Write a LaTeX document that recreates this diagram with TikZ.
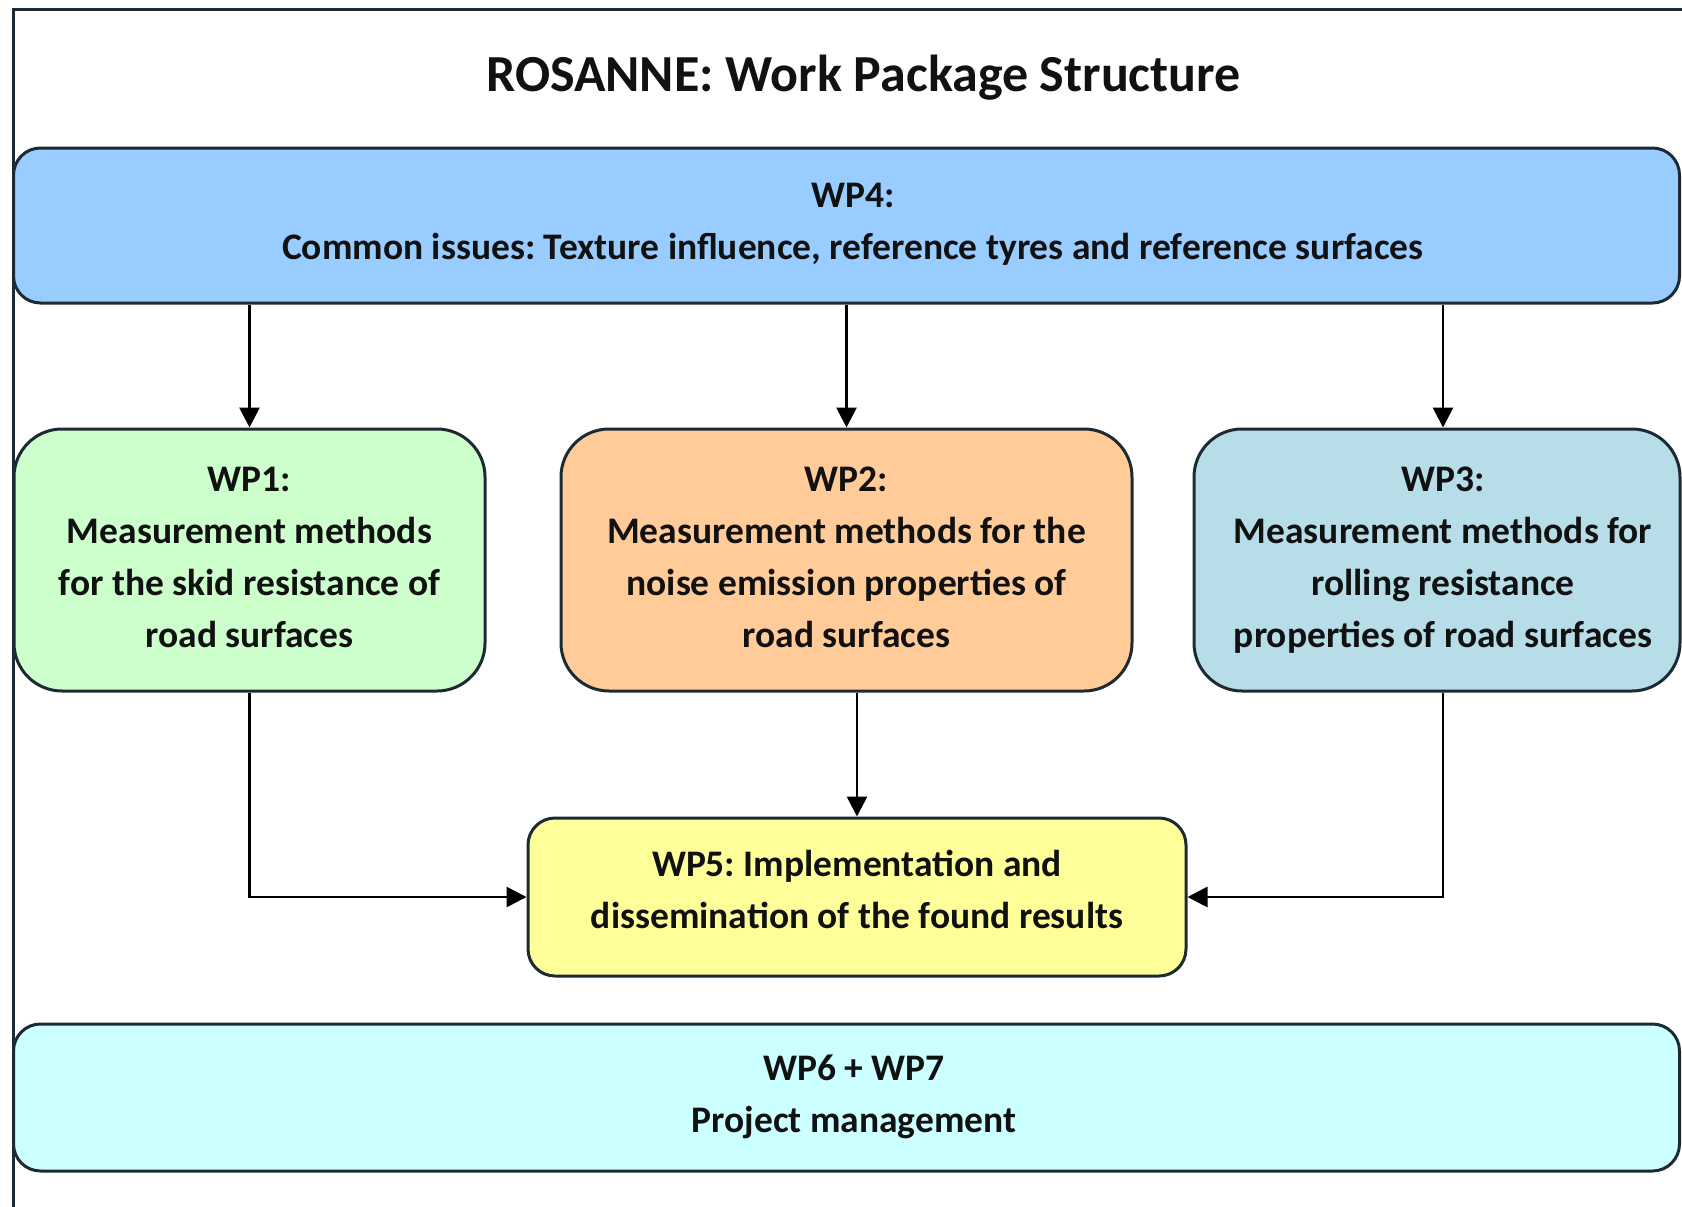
\documentclass[tikz,border=0pt]{standalone}
\usepackage{fontspec}
\setmainfont{Carlito}
\frenchspacing
\usetikzlibrary{arrows.meta}
\definecolor{cwpfour}{HTML}{99CCFF}
\definecolor{cwpone}{HTML}{CCFFCC}
\definecolor{cwptwo}{HTML}{FFCC99}
\definecolor{cwpthree}{HTML}{B6DDE8}
\definecolor{cwpfive}{HTML}{FFFF99}
\definecolor{cwpsix}{HTML}{CCFFFF}
\definecolor{edgec}{HTML}{1E2A33}
\definecolor{txtc}{HTML}{111111}
\begin{document}
\begin{tikzpicture}[x=1pt,y=-1pt,
  wpbox/.style={draw=edgec, line width=3pt, rectangle, inner sep=0pt},
  wptext/.style={inner sep=0pt, text=txtc, align=center, font=\frenchspacing\bfseries\fontsize{37.5}{52}\selectfont},
  arr/.style={line width=2.8pt, -{Triangle[length=20pt,width=20pt]}}]
\useasboundingbox (0,0) rectangle (1682,1207);
% frame
\draw[line width=3pt, edgec] (1682,9.5) -- (13.5,9.5) -- (13.5,1207);
% title
\node[inner sep=0pt, text=txtc, font=\frenchspacing\bfseries\fontsize{52}{60}\selectfont] (title) at (863.5,78) {ROSANNE: Work Package Structure};
% WP4
\node[wpbox, fill=cwpfour, minimum width=1666pt, minimum height=155pt, rounded corners=27pt] (wp4) at (846.5,225.5) {};
\node[wptext] (wp4t) at (853,224) {WP4:\\Common issues: Texture influence, reference tyres and reference surfaces};
% WP1
\node[wpbox, fill=cwpone, minimum width=471pt, minimum height=262pt, rounded corners=48pt] (wp1) at (249.5,560) {};
\node[wptext] (wp1t) at (249.5,557.3) {WP1:\\Measurement methods\\for the skid resistance of\\road surfaces};
% WP2
\node[wpbox, fill=cwptwo, minimum width=571pt, minimum height=262pt, rounded corners=48pt] (wp2) at (846.5,560) {};
\node[wptext] (wp2t) at (846.5,557.3) {WP2:\\Measurement methods for the\\noise emission properties of\\road surfaces};
% WP3
\node[wpbox, fill=cwpthree, minimum width=486pt, minimum height=262pt, rounded corners=48pt] (wp3) at (1437,560) {};
\node[wptext] (wp3t) at (1443,560.5) {WP3:\\Measurement methods for\\rolling resistance\\properties of road surfaces};
% WP5
\node[wpbox, fill=cwpfive, minimum width=658pt, minimum height=158pt, rounded corners=27pt] (wp5) at (857,897) {};
\node[wptext] (wp5t) at (857,889.5) {WP5: Implementation and\\dissemination of the found results};
% WP6 + WP7
\node[wpbox, fill=cwpsix, minimum width=1666pt, minimum height=147pt, rounded corners=27pt] (wp6) at (846.5,1097.5) {};
\node[wptext] (wp6t) at (854,1097) {WP6 + WP7\\Project management};
% arrows
\draw[arr] (wp1.north |- wp4.south) -- (wp1.north);
\draw[arr] (wp2.north |- wp4.south) -- (wp2.north);
\draw[arr] (wp3t.north |- wp4.south) -- (wp3t.north |- wp3.north);
\draw[arr] (wp5.north |- wp2.south) -- (wp5.north);
\draw[arr] (wp1.south) |- (wp5.west);
\draw[arr] (wp3t.south |- wp3.south) |- (wp5.east);
\end{tikzpicture}
\end{document}
